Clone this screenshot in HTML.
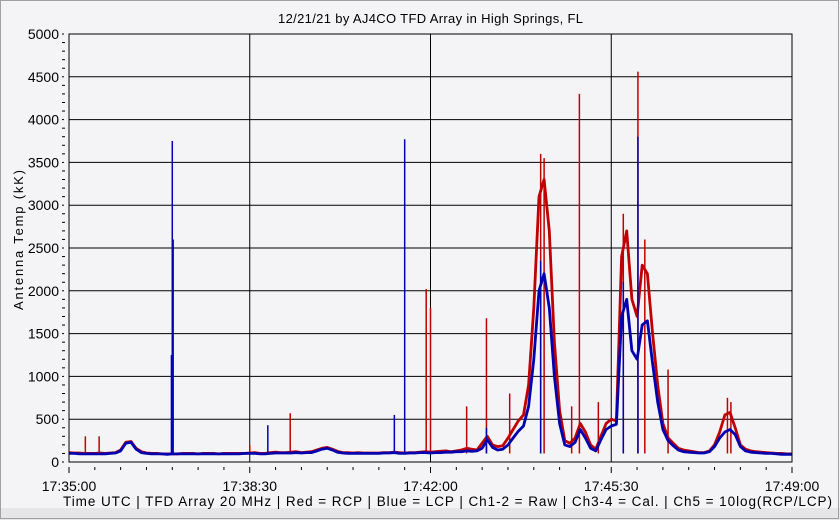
<!DOCTYPE html>
<html><head><meta charset="utf-8"><style>
body{margin:0;background:#f4f4f7;}
svg{display:block;font-family:"Liberation Sans",sans-serif;}
</style></head><body>
<svg id="c" width="840" height="520">
<rect x="0" y="0" width="840" height="520" fill="#f4f4f7"/>
<rect x="0" y="508" width="840" height="12" fill="#e6e6e8"/>
<rect x="0.5" y="0.5" width="838" height="518" fill="none" stroke="#a0a0a0"/>
<text x="278" y="23" font-size="13" textLength="305" lengthAdjust="spacing">12/21/21  by  AJ4CO TFD Array  in  High Springs, FL</text>
<text transform="translate(23,240) rotate(-90)" font-size="13" text-anchor="middle" textLength="140">Antenna Temp (kK)</text>
<text x="63" y="506" font-size="13.5" textLength="769" lengthAdjust="spacing">Time UTC | TFD Array 20 MHz | Red = RCP | Blue = LCP | Ch1-2 = Raw | Ch3-4 = Cal. | Ch5 = 10log(RCP/LCP)</text>
<g id="grid"></g><g id="series"></g><g id="axes"></g>
</svg>
<script>
const yTicks=[0,500,1000,1500,2000,2500,3000,3500,4000,4500,5000];
const xTickSecs=[0,210,420,630,840];
const xTickLabels=["17:35:00","17:38:30","17:42:00","17:45:30","17:49:00"];
const sampleStep=6;
const red=[110,105,105,100,100,100,105,100,105,110,140,230,240,160,120,105,100,100,95,95,95,95,100,100,100,95,100,100,100,95,100,100,100,100,100,105,110,100,100,110,115,110,110,115,120,110,115,120,140,160,170,150,125,110,110,105,110,105,105,105,105,110,110,115,110,105,110,110,115,120,115,120,125,130,120,130,140,160,150,140,220,300,200,180,190,280,380,480,550,900,1800,3100,3300,2700,1400,600,250,220,280,450,350,200,150,300,450,500,480,2400,2700,1900,1700,2300,2200,1500,900,450,280,220,160,140,130,120,110,110,130,200,350,550,580,400,200,150,130,120,115,110,105,100,100,95,95];
const blue=[100,100,95,95,95,95,95,95,100,105,130,220,230,150,110,100,95,95,95,90,95,95,95,95,95,95,95,95,95,95,95,95,95,95,100,100,100,95,95,100,105,105,105,105,110,105,110,110,130,150,160,140,115,105,100,100,100,100,100,100,100,105,105,110,100,100,105,105,110,110,105,110,110,115,115,120,120,130,125,130,160,260,170,140,150,200,280,360,420,650,1200,2000,2200,1800,1000,450,200,180,230,380,280,160,130,260,380,420,440,1700,1900,1300,1200,1600,1650,1150,700,380,250,190,140,120,115,110,105,105,120,180,280,350,380,320,180,130,115,110,105,100,100,95,90,90,90];
const redSpikeT=[19,35,210,257,415,420,462,485,512,548,552,584,593,615,644,661,669,696,765,769];
const redSpikeV=[300,300,200,570,2020,1800,650,1680,800,3600,3550,650,4300,700,2900,4560,2600,1080,750,700];
const blueSpikeT=[119,120,121,231,378,390,485,548,644,661];
const blueSpikeV=[1250,3750,2600,430,550,3770,400,2350,2100,3800];
const L=69,R=792,T=34,B=462,TMAX=840,VMAX=5000;
const xs=t=>L+t/TMAX*(R-L);
const ys=v=>B-v/VMAX*(B-T);
const NS="http://www.w3.org/2000/svg";
function mk(tag,attrs,parent){const e=document.createElementNS(NS,tag);for(const k in attrs)e.setAttribute(k,attrs[k]);parent.appendChild(e);return e;}
const grid=document.getElementById('grid'),ser=document.getElementById('series'),ax=document.getElementById('axes');
mk('rect',{x:L,y:T,width:R-L,height:B-T,fill:'#f4f4f7'},grid);
yTicks.forEach(v=>{const y=ys(v);
 const g=mk('line',{x1:L,x2:R,y1:y,y2:y,stroke:'#000','stroke-width':1},grid);
 
 
 const tx=mk('text',{x:59,y:y+5,'font-size':14,'text-anchor':'end'},ax);tx.textContent=v;
 
 
 mk('line',{x1:62,x2:64,y1:y,y2:y,stroke:'#000'},ax);
});
for(let v=100;v<VMAX;v+=100){if(v%500)mk('line',{x1:62,x2:65,y1:ys(v),y2:ys(v),stroke:'#000'},ax);}
xTickSecs.forEach((t,i)=>{const x=xs(t);
 const g=mk('line',{x1:x,x2:x,y1:T,y2:B,stroke:'#000'},grid);
 
 
 const tx=mk('text',{x:x,y:491,'font-size':14,'text-anchor':'middle'},ax);tx.textContent=xTickLabels[i];
 
 
});
for(let t=0;t<=TMAX;t+=30){const x=xs(t);mk('line',{x1:x,x2:x,y1:467,y2:(t%210?470:473),stroke:'#000'},ax);}
function drawSeries(vals,col,name){
 const d=vals.map((v,i)=>(i?'L':'M')+xs(i*sampleStep).toFixed(1)+','+ys(v).toFixed(1)).join('');
 const p=mk('path',{d:d,fill:'none',stroke:col,'stroke-width':2.8,'stroke-linejoin':'round'},ser);
 
 
}
function drawSpikes(ts,vs,col,name,w){
 ts.forEach((t,i)=>{const x=xs(t);
  const l=mk('line',{x1:x,x2:x,y1:ys(100),y2:ys(vs[i]),stroke:col,'stroke-width':w},ser);
  
  
 });
}
drawSeries(red,'#c00000','rcp-series');
drawSpikes(redSpikeT,redSpikeV,'#c00000','rcp-spike',1.5);
drawSeries(blue,'#0000b0','lcp-series');
drawSpikes(blueSpikeT,blueSpikeV,'#0000b0','lcp-spike',1.5);
mk('rect',{x:L,y:T,width:R-L,height:B-T,fill:'none',stroke:'#000'},ax);
</script>
</body></html>
